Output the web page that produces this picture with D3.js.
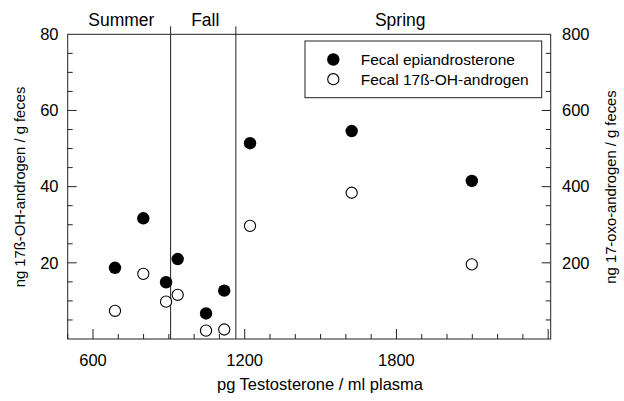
<!DOCTYPE html>
<html>
<head>
<meta charset="utf-8">
<script src="https://cdn.jsdelivr.net/npm/d3@7"></script>
<style>
  body { margin: 0; background: #fff; }
  text { font-family: "Liberation Sans", Arial, sans-serif; fill: #000; }
</style>
</head>
<body>
<script>
// pg testosterone / ml plasma
const testosterone = [687, 799, 889, 935, 1047, 1119, 1221, 1623, 2098]
// fecal epiandrosterone, ng 17-oxo-androgen / g feces (right axis)
const epiandrosterone = [187, 317, 149, 210, 67, 127, 514, 546, 415]
// fecal 17ß-OH-androgen, ng / g feces (left axis)
const ohAndrogen = [7.4, 17.1, 9.8, 11.6, 2.2, 2.5, 29.7, 38.4, 19.6]
const seasonBreaks = [907, 1165]
const seasons = ["Summer", "Fall", "Spring"]
const xTicks = [600, 1200, 1800]
const leftTicks = [20, 40, 60, 80]
const rightTicks = [200, 400, 600, 800]
const seriesNames = ["Fecal epiandrosterone", "Fecal 17ß-OH-androgen"]

const width = 624, height = 401
const margin = ({ top: 34.3, right: 73.3, bottom: 62, left: 67.7 })

const svg = d3.select('body').append('svg')
    .attr('width', width)
    .attr('height', height)
    .attr('viewBox', [0, 0, width, height])

const x = d3.scaleLinear()
    .domain([500, 2410])
    .range([margin.left, width - margin.right])
const yL = d3.scaleLinear()
    .domain([0, 80])
    .range([height - margin.bottom, margin.top])
const yR = d3.scaleLinear()
    .domain([0, 800])
    .range([height - margin.bottom, margin.top])

const stroke = '#222'

// frame
svg.append('rect')
    .attr('x', x.range()[0]).attr('y', yL.range()[1])
    .attr('width', x.range()[1] - x.range()[0])
    .attr('height', yL.range()[0] - yL.range()[1])
    .attr('fill', 'none').attr('stroke', stroke).attr('stroke-width', 1)

// inward ticks
const tickLine = g => g.attr('stroke', stroke).attr('stroke-width', 1)

const bottom = svg.append('g').call(tickLine)
bottom.selectAll('line')
    .data(d3.range(500, 2401, 100))
    .join('line')
    .attr('x1', d => x(d)).attr('x2', d => x(d))
    .attr('y1', yL(0)).attr('y2', d => yL(0) - (d % 600 === 0 ? 10 : 5))

const left = svg.append('g').call(tickLine)
left.selectAll('line')
    .data(d3.range(5, 80, 5))
    .join('line')
    .attr('y1', d => yL(d)).attr('y2', d => yL(d))
    .attr('x1', x.range()[0]).attr('x2', d => x.range()[0] + (d % 20 === 0 ? 9 : 5))

const right = svg.append('g').call(tickLine)
right.selectAll('line')
    .data(d3.range(50, 800, 50))
    .join('line')
    .attr('y1', d => yR(d)).attr('y2', d => yR(d))
    .attr('x1', x.range()[1]).attr('x2', d => x.range()[1] - (d % 200 === 0 ? 9 : 5))

// tick labels
svg.append('g').selectAll('text')
    .data(xTicks).join('text')
    .attr('x', d => x(d)).attr('y', 365.5)
    .attr('text-anchor', 'middle').attr('font-size', 16.5)
    .text(d => d)

svg.append('g').selectAll('text')
    .data(leftTicks).join('text')
    .attr('x', 58.5).attr('y', d => yL(d))
    .attr('dy', '0.35em')
    .attr('text-anchor', 'end').attr('font-size', 16.5)
    .text(d => d)

svg.append('g').selectAll('text')
    .data(rightTicks).join('text')
    .attr('x', 562).attr('y', d => yR(d))
    .attr('dy', '0.35em')
    .attr('text-anchor', 'start').attr('font-size', 16.5)
    .text(d => d)

// axis titles
svg.append('text')
    .attr('x', 320).attr('y', 389.5)
    .attr('text-anchor', 'middle').attr('font-size', 16.5)
    .text('pg Testosterone / ml plasma')

svg.append('text')
    .attr('transform', `translate(24.5,187) rotate(-90)`)
    .attr('text-anchor', 'middle').attr('font-size', 14.8)
    .text('ng 17ß-OH-androgen / g feces')

svg.append('text')
    .attr('transform', `translate(616,187) rotate(-90)`)
    .attr('text-anchor', 'middle').attr('font-size', 14.8)
    .text('ng 17-oxo-androgen / g feces')

// season boundaries
svg.append('g').selectAll('line')
    .data(seasonBreaks).join('line')
    .attr('x1', d => x(d)).attr('x2', d => x(d))
    .attr('y1', yL(80) - 8).attr('y2', yL(0))
    .attr('stroke', stroke).attr('stroke-width', 1)

const seasonEdges = [500, ...seasonBreaks, 2410]
const seasonCenters = [x(712), (x(seasonEdges[1]) + x(seasonEdges[2])) / 2 + 2, x(1815)]
svg.append('g').selectAll('text')
    .data(seasons).join('text')
    .attr('x', (d, i) => seasonCenters[i]).attr('y', 26)
    .attr('text-anchor', 'middle').attr('font-size', 17.5)
    .text(d => d)

// points
const pts = testosterone.map((t, i) => ({ t, epi: epiandrosterone[i], oh: ohAndrogen[i] }))

svg.append('g').selectAll('circle')
    .data(pts).join('circle')
    .attr('cx', d => x(d.t)).attr('cy', d => yL(d.oh))
    .attr('r', 5.6)
    .attr('fill', '#fff').attr('stroke', '#000').attr('stroke-width', 1.1)

svg.append('g').selectAll('circle')
    .data(pts).join('circle')
    .attr('cx', d => x(d.t)).attr('cy', d => yR(d.epi))
    .attr('r', 6.2)
    .attr('fill', '#000')

// legend
const legend = svg.append('g')
legend.append('rect')
    .attr('x', 305).attr('y', 41)
    .attr('width', 236.7).attr('height', 56.7)
    .attr('fill', '#fff').attr('stroke', stroke).attr('stroke-width', 1)

legend.append('circle')
    .attr('cx', 333.3).attr('cy', 59.5).attr('r', 6.2).attr('fill', '#000')
legend.append('circle')
    .attr('cx', 333.3).attr('cy', 79.2).attr('r', 5.6)
    .attr('fill', '#fff').attr('stroke', '#000').attr('stroke-width', 1.1)

legend.selectAll('text')
    .data(seriesNames).join('text')
    .attr('x', 360.7).attr('y', (d, i) => 64.5 + i * 20)
    .attr('font-size', 15.5)
    .text(d => d)
</script>
</body>
</html>
